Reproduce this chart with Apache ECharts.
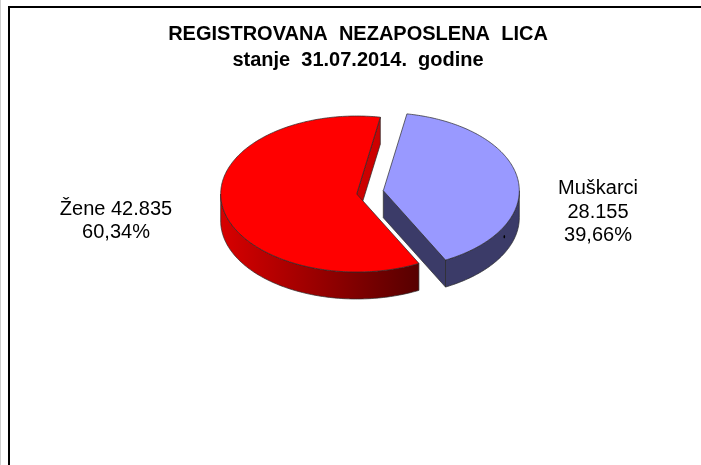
<!DOCTYPE html>
<html>
<head>
<meta charset="utf-8">
<style>html,body{margin:0;padding:0;background:#fff}#c{width:701px;height:465px}</style>
<script src="https://cdn.jsdelivr.net/npm/echarts@6/dist/echarts.min.js"></script>
</head>
<body>
<div id="c"></div>
<script>
const titleLines = ['REGISTROVANA  NEZAPOSLENA  LICA', 'stanje  31.07.2014.  godine'];
const categories = ['Muškarci', 'Žene'];
const values = [28155, 42835];

const FIRST_ANGLE = 10;
const CENTER = [356.7, 194];
const RX = 136, RY = 78, DEPTH = 27;
const OFFSETS = [[26.6, -3.3], [0, 0]];
const TOP_COLORS = ['#9999ff', '#ff0000'];
const CUT_COLORS = ['#3b3b68', '#cc0000'];
const WALL_COLORS = [['#3b3b68', '#3b3b68'], ['#d80000', '#560000']];
const STROKE = '#2a2a2a';
const LABEL_POS = [[598, 212], [116, 221]];
const LABEL_LINES = [
  (n, v, p) => [n, v, p],
  (n, v, p) => [n + ' ' + v, p]
];
// Order in which the slices are painted (back to front)
const DRAW_ORDER = [1, 0];

const total = values.reduce((a, b) => a + b, 0);
const fmtValue = v => String(v).replace(/\B(?=(\d{3})+$)/g, '.');
const fmtPct = v => (v / total * 100).toFixed(2).replace('.', ',') + '%';

function pt(deg, o, dy) {
  const r = deg * Math.PI / 180;
  return [CENTER[0] + o[0] + RX * Math.sin(r), CENTER[1] + o[1] - RY * Math.cos(r) + (dy || 0)];
}
function arc(a, b, o, dy) {
  const pts = [], n = Math.max(2, Math.ceil(Math.abs(b - a)));
  for (let i = 0; i <= n; i++) pts.push(pt(a + (b - a) * i / n, o, dy));
  return pts;
}
function sliceRange(i) {
  let a = FIRST_ANGLE;
  for (let k = 0; k < i; k++) a += values[k] / total * 360;
  return [a, a + values[i] / total * 360];
}
function lineStyle(fill) {
  return { fill: fill, stroke: STROKE, lineWidth: 0.7 };
}
function renderSlice(params, api) {
  const i = DRAW_ORDER[params.dataIndex];
  const [a, b] = sliceRange(i);
  const o = OFFSETS[i];
  const apex = [CENTER[0] + o[0], CENTER[1] + o[1]];
  const children = [];
  const lowerApex = [apex[0], apex[1] + DEPTH];
  // visible cut faces
  [[a, -Math.sin(a * Math.PI / 180)], [b, Math.sin(b * Math.PI / 180)]].forEach(([ang, vis]) => {
    if (vis > 0) {
      children.push({ type: 'polygon',
        shape: { points: [apex, pt(ang, o), pt(ang, o, DEPTH), lowerApex] },
        style: lineStyle(CUT_COLORS[i]) });
    }
  });
  // visible outer wall: the front half of the rim (90°..270°)
  for (const shift of [0, 360]) {
    const w0 = Math.max(a, 90 + shift), w1 = Math.min(b, 270 + shift);
    if (w1 > w0) {
      const up = arc(w0, w1, o), low = arc(w0, w1, o, DEPTH).reverse();
      children.push({ type: 'polygon',
        shape: { points: up.concat(low) },
        style: lineStyle({ type: 'linear', x: 1, y: 0, x2: 0, y2: 0,
          colorStops: [{ offset: 0, color: WALL_COLORS[i][1] }, { offset: 1, color: WALL_COLORS[i][0] }] }) });
    }
  }
  // top face
  children.push({ type: 'polygon',
    shape: { points: [apex].concat(arc(a, b, o)) },
    style: lineStyle(TOP_COLORS[i]) });
  // label
  children.push({ type: 'text',
    style: {
      text: LABEL_LINES[i](categories[i], fmtValue(values[i]), fmtPct(values[i])).join('\n'),
      x: LABEL_POS[i][0], y: LABEL_POS[i][1], align: 'center', verticalAlign: 'middle',
      font: '20px "Liberation Sans", Arial, sans-serif', lineHeight: 23.5, fill: '#000'
    } });
  return { type: 'group', children };
}

const chart = echarts.init(document.getElementById('c'), null, { renderer: 'canvas' });
chart.setOption({
  animation: false,
  backgroundColor: '#fff',
  title: {
    text: titleLines.join('\n'),
    left: 353, top: 16, textAlign: 'center',
    textStyle: { fontFamily: '"Liberation Sans", Arial, sans-serif', fontWeight: 'bold', fontSize: 20, lineHeight: 26, color: '#000' }
  },
  graphic: [
    { type: 'rect', shape: { x: 0, y: 0, width: 1, height: 465 }, style: { fill: '#cfcfcf' }, silent: true },
    { type: 'rect', shape: { x: 8, y: 6, width: 693, height: 2 }, style: { fill: '#000' }, silent: true },
    { type: 'rect', shape: { x: 8, y: 6, width: 2, height: 459 }, style: { fill: '#000' }, silent: true },
    { type: 'ellipse', shape: { cx: 504.3, cy: 236.7, rx: 0.8, ry: 1.6 }, style: { fill: '#000' }, silent: true, z: 10 }
  ],
  series: [{
    type: 'custom',
    coordinateSystem: 'none',
    renderItem: renderSlice,
    data: DRAW_ORDER.map(i => values[i]),
    silent: true
  }]
});
</script>
</body>
</html>
